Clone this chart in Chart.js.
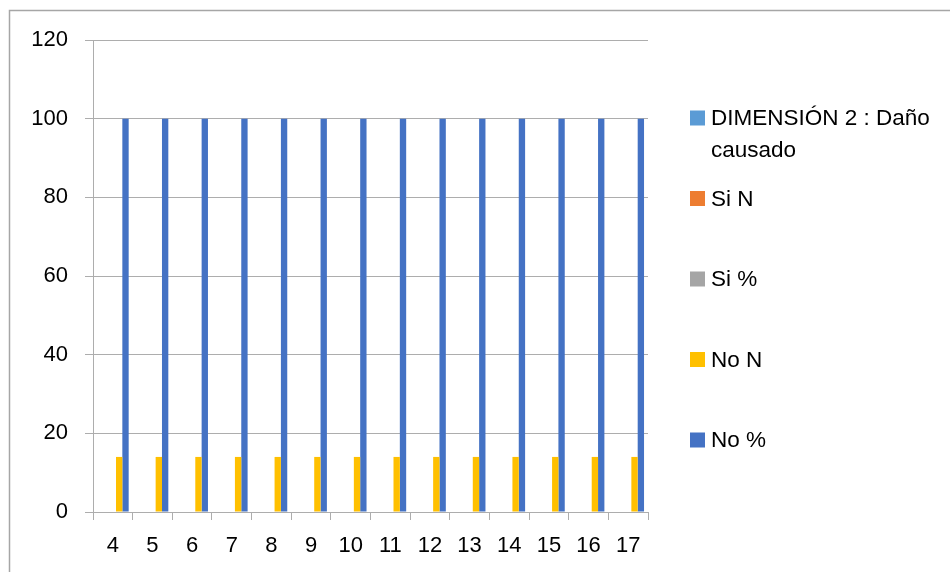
<!DOCTYPE html>
<html>
<head>
<meta charset="utf-8">
<script src="https://cdn.jsdelivr.net/npm/chart.js@4.4.1/dist/chart.umd.min.js"></script>
<style>
  html, body { margin: 0; padding: 0; background: #fff; }
  #wrap { position: relative; width: 950px; height: 572px; }
  canvas { display: block; }
</style>
</head>
<body>
<div id="wrap"><canvas id="c" width="950" height="572"></canvas></div>
<script>
// Items 4–17 of dimension 2
const categories = ['4', '5', '6', '7', '8', '9', '10', '11', '12', '13', '14', '15', '16', '17'];
const dimension2 = [0, 0, 0, 0, 0, 0, 0, 0, 0, 0, 0, 0, 0, 0];
const siN = [0, 0, 0, 0, 0, 0, 0, 0, 0, 0, 0, 0, 0, 0];
const siPct = [0, 0, 0, 0, 0, 0, 0, 0, 0, 0, 0, 0, 0, 0];
const noN = [14, 14, 14, 14, 14, 14, 14, 14, 14, 14, 14, 14, 14, 14];
const noPct = [100, 100, 100, 100, 100, 100, 100, 100, 100, 100, 100, 100, 100, 100];
const yTicks = [0, 20, 40, 60, 80, 100, 120];

const FONT = '"Liberation Sans", Arial, sans-serif';
const GRID = '#adadad';

// Frame around the chart (top and left edges visible)
const framePlugin = {
  id: 'frame',
  beforeDraw(chart) {
    const ctx = chart.ctx;
    ctx.save();
    ctx.strokeStyle = '#a6a6a6';
    ctx.lineWidth = 1.5;
    ctx.beginPath();
    ctx.moveTo(9.5, 572);
    ctx.lineTo(9.5, 10.5);
    ctx.lineTo(950, 10.5);
    ctx.stroke();
    ctx.restore();
  }
};

// Legend on the right, spread vertically, with wrapped labels
const sideLegend = {
  id: 'sideLegend',
  afterDraw(chart) {
    const ctx = chart.ctx;
    const x0 = 690, box = 15, textX = 711, maxW = 236;
    const firstY = 118, step = 80.5, lineH = 32;
    ctx.save();
    ctx.font = '22.5px ' + FONT;
    ctx.textBaseline = 'middle';
    chart.data.datasets.forEach((ds, i) => {
      const cy = firstY + i * step;
      ctx.fillStyle = ds.backgroundColor;
      ctx.fillRect(x0, cy - box / 2, box, box);
      // wrap words to fit
      const words = ds.label.split(' ');
      const lines = [];
      let cur = '';
      words.forEach(w => {
        const t = cur ? cur + ' ' + w : w;
        if (ctx.measureText(t).width > maxW && cur) { lines.push(cur); cur = w; }
        else cur = t;
      });
      if (cur) lines.push(cur);
      ctx.fillStyle = '#000';
      lines.forEach((ln, k) => ctx.fillText(ln, textX, cy + 1 + k * lineH));
    });
    ctx.restore();
  }
};

new Chart(document.getElementById('c'), {
  type: 'bar',
  data: {
    labels: categories,
    datasets: [
      { label: 'DIMENSIÓN 2 : Daño causado', data: dimension2, backgroundColor: '#5B9BD5' },
      { label: 'Si N', data: siN, backgroundColor: '#ED7D31' },
      { label: 'Si %', data: siPct, backgroundColor: '#A5A5A5' },
      { label: 'No N', data: noN, backgroundColor: '#FFC000' },
      { label: 'No %', data: noPct, backgroundColor: '#4472C4' }
    ]
  },
  options: {
    responsive: false,
    animation: false,
    devicePixelRatio: 1,
    layout: { padding: { left: 0, top: 40, right: 302, bottom: 0 } },
    datasets: { bar: { categoryPercentage: 0.8, barPercentage: 1.0, borderWidth: 0 } },
    plugins: { legend: { display: false }, tooltip: { enabled: false } },
    scales: {
      x: {
        offset: true,
        grid: { offset: true, drawOnChartArea: false, drawTicks: true, tickLength: 8, color: GRID, lineWidth: 1 },
        border: { display: true, color: GRID, width: 1 },
        ticks: { color: '#000', font: { family: FONT, size: 22 }, padding: 13, maxRotation: 0, autoSkip: false },
        afterFit(scale) { scale.height = 60; }
      },
      y: {
        min: 0,
        max: 120,
        afterBuildTicks(scale) { scale.ticks = yTicks.map(v => ({ value: v })); },
        grid: { color: GRID, lineWidth: 1, tickLength: 8 },
        border: { display: true, color: GRID, width: 1 },
        ticks: { color: '#000', font: { family: FONT, size: 22 }, padding: 17 },
        afterFit(scale) { scale.width = 93; }
      }
    }
  },
  plugins: [framePlugin, sideLegend]
});
</script>
</body>
</html>
